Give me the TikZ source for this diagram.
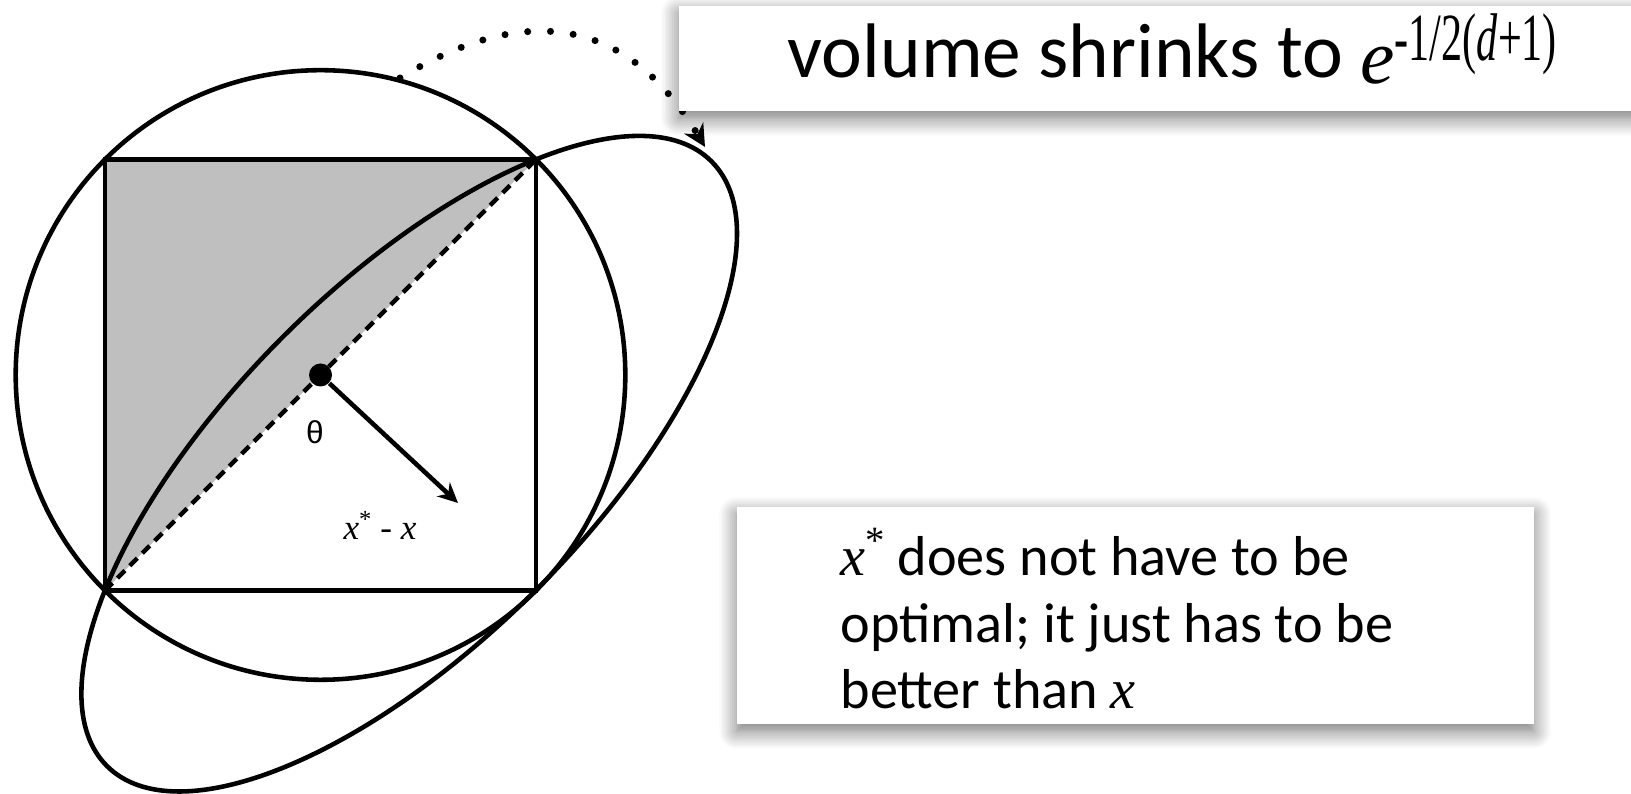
\documentclass[tikz,border=0pt]{standalone}
\usepackage{fontspec}
\setmainfont{Carlito}
\newfontfamily\timesfont{Liberation Serif}
\newfontfamily\greekfont{Liberation Sans}
\usetikzlibrary{arrows.meta,shadows.blur}

\begin{document}
\begin{tikzpicture}[
    edge/.style={line width=1.3pt},
    vecarrow/.style={-{Stealth[length=2mm, width=1.9mm]}, line width=1.3pt},
    hoparrow/.style={-{Stealth[length=2.2mm, width=2.2mm]}, line width=2pt, line cap=round, dash pattern=on 0pt off 6.5pt},
    card/.style={fill=white, inner sep=0pt, blur shadow={shadow xshift=0pt, shadow yshift=-2pt, shadow blur radius=5pt, shadow blur steps=10, shadow opacity=55}},
    label/.style={inner sep=0pt}
]
\useasboundingbox (0,0) rectangle (16.31,7.94);

% Square corners and centre
\coordinate (sw) at (1.05,2.035);
\coordinate (se) at (5.36,2.035);
\coordinate (ne) at (5.36,6.345);
\coordinate (nw) at (1.05,6.345);
\coordinate (ctr) at (3.205,4.19);
\coordinate (ellc) at (4.092,3.303);

% Shaded half of the square
\fill[black!25] (sw) -- (nw) -- (ne) -- cycle;
\draw[line width=1.3pt, dash pattern=on 3pt off 2pt] (sw) -- (ne);

% Square, circle and ellipse
\draw[edge] (sw) rectangle (ne);
\draw[edge] (ctr) circle (3.048);
\draw[edge, rotate around={45:(ellc)}] (ellc) ellipse [x radius=4.275, y radius=1.79];

% Point and direction
\node[circle, fill, inner sep=0pt, minimum size=0.23cm] (xdot) at (ctr) {};
\coordinate (vtip) at (4.58,2.91);
\draw[vecarrow] (xdot) -- (vtip);
\node[label, font=\greekfont\fontsize{9}{9}\selectfont] (theta) at (3.15,3.62) {θ};
\node[label, font=\timesfont\fontsize{10}{10}\selectfont] (dirlabel) at (3.80,2.69) {\textit{x}\raisebox{0.12cm}{\fontsize{7}{7}\selectfont *} - \textit{x}};

% Dotted hop to the new ellipse
\coordinate (hopstart) at (4.00,7.16);
\coordinate (hopend) at (7.05,6.47);
\draw[hoparrow] (hopstart) .. controls (5.27,7.93) and (6.28,7.76) .. (hopend);

% Title card
\node[card, minimum width=9.8cm, minimum height=1.05cm, anchor=south west] (titlecard) at (6.78,6.82) {};
\node[label, anchor=base west, font=\fontsize{22}{26}\selectfont] (titletext) at (7.87,7.16)
    {volume shrinks to \raisebox{-0.06cm}{\timesfont\itshape e}\raisebox{0.17cm}{\scalebox{1}[1.6]{\timesfont\fontsize{12}{12}\selectfont -1/2(\textit{d}+1)}}};

% Note card
\node[card, minimum width=7.97cm, minimum height=2.17cm, anchor=south west] (notecard) at (7.36,0.69) {};
\node[label, anchor=base west, align=left, font=\fontsize{16}{19}\selectfont] (notetext) at (8.40,0.85)
    {{\timesfont\itshape x}\raisebox{0.22cm}{\timesfont\fontsize{11}{11}\selectfont *} does not have to be\\
     optimal; it just has to be\\
     better than {\timesfont\itshape x}};

\end{tikzpicture}
\end{document}
